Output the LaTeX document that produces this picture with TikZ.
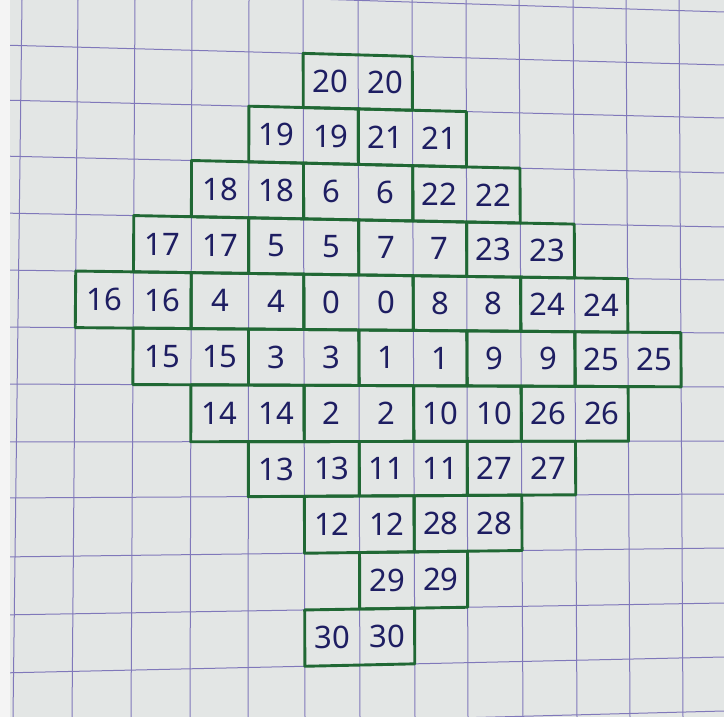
\documentclass[tikz,border=0pt]{standalone}
\usepackage{fontspec}
\setmainfont{Noto Sans}
\usetikzlibrary{calc}
\definecolor{paper}{RGB}{227,230,229}
\definecolor{edgewhite}{RGB}{244,244,244}
\definecolor{gridblue}{RGB}{128,120,186}
\definecolor{penGreen}{RGB}{32,104,52}
\definecolor{ink}{RGB}{30,30,98}
\tikzset{
  gridline/.style={draw=gridblue,line width=1.0pt,shorten <=-15pt,shorten >=-15pt},
  domino/.style={draw=penGreen,line width=2.9pt,line join=round,line cap=round},
  digits/.style={text=ink,inner sep=0pt,font=\fontsize{31}{31}\selectfont}
}
\begin{document}
\begin{tikzpicture}[x=1pt,y=-1pt]
\useasboundingbox (0,0) rectangle (724,717);
\fill[paper] (0,0) rectangle (724,717);
\begin{scope}
\clip (0,0) rectangle (724,717);
% vertical grid lines: top x (y=0), bottom x (y=717)
\foreach \i/\t/\b in {0/22/13,1/78/72,2/135/131,3/192/190,4/249/248,5/303/305,6/358/360,7/412/415,8/466/468,9/519/523,10/573/577,11/626/630,12/679/683}{
  \coordinate (vt\i) at (\t,0);
  \coordinate (vb\i) at (\b,717);
  \draw[gridline] (vt\i) -- (vb\i);
}
% horizontal grid lines: left y (x=0), right y (x=724)
\foreach \j/\l/\r in {0/45/65,1/100/118,2/156/173,3/213/227,4/270/280,5/327/333,6/384/387,7/442/441,8/498/494,9/557/548,10/615/603,11/673/657}{
  \coordinate (hl\j) at (0,\l);
  \coordinate (hr\j) at (724,\r);
  \draw[gridline] (hl\j) -- (hr\j);
}
\coordinate (hla) at (0,-11);
\coordinate (hra) at (724,12);
\draw[gridline] (hla) -- (hra);
\coordinate (hlb) at (0,730);
\coordinate (hrb) at (724,711);
\draw[gridline] (hlb) -- (hrb);
\end{scope}
\fill[edgewhite] (0,0) rectangle (10,717);
% grid intersections
\foreach \i in {0,...,12}{
  \foreach \j in {0,...,11}{
    \pgfmathsetmacro{\vt}{{22,78,135,192,249,303,358,412,466,519,573,626,679}[\i]}
    \pgfmathsetmacro{\vb}{{13,72,131,190,248,305,360,415,468,523,577,630,683}[\i]}
    \pgfmathsetmacro{\hl}{{45,100,156,213,270,327,384,442,498,557,615,673}[\j]}
    \pgfmathsetmacro{\hr}{{65,118,173,227,280,333,387,441,494,548,603,657}[\j]}
    \pgfmathsetmacro{\kk}{(\hr-\hl)/724}
    \pgfmathsetmacro{\cc}{(\vb-\vt)/717}
    \pgfmathsetmacro{\yy}{(\hl+\kk*\vt)/(1-\kk*\cc)}
    \pgfmathsetmacro{\xx}{\vt+\cc*\yy}
    \coordinate (p\i-\j) at (\xx,\yy);
  }
}
% dominoes: row / left column / label
\foreach \r/\a/\lab in {0/5/20,
  1/4/19, 1/6/21,
  2/3/18, 2/5/6, 2/7/22,
  3/2/17, 3/4/5, 3/6/7, 3/8/23,
  4/1/16, 4/3/4, 4/5/0, 4/7/8, 4/9/24,
  5/2/15, 5/4/3, 5/6/1, 5/8/9, 5/10/25,
  6/3/14, 6/5/2, 6/7/10, 6/9/26,
  7/4/13, 7/6/11, 7/8/27,
  8/5/12, 8/7/28,
  9/6/29,
  10/5/30}{
  \pgfmathtruncatemacro{\m}{\a+1}
  \pgfmathtruncatemacro{\b}{\a+2}
  \pgfmathtruncatemacro{\s}{\r+1}
  \draw[domino] (p\a-\r) -- (p\b-\r) -- (p\b-\s) -- (p\a-\s) -- cycle;
  \node[digits] (d\lab a) at ($(p\a-\r)!0.5!(p\m-\s)$) {\lab};
  \node[digits] (d\lab b) at ($(p\m-\r)!0.5!(p\b-\s)$) {\lab};
}
\end{tikzpicture}
\end{document}
